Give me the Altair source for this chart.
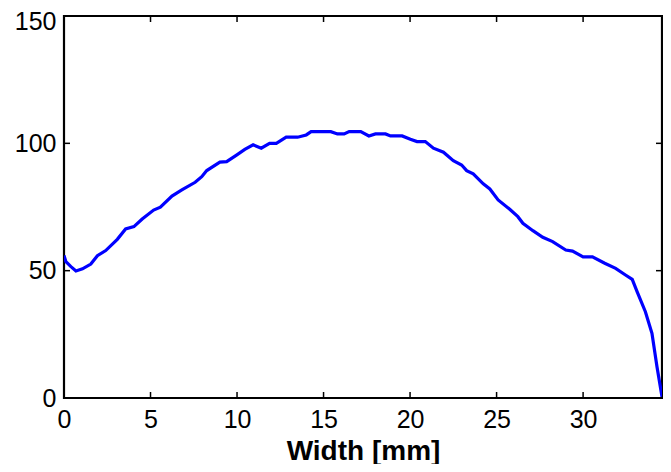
import altair as alt
import pandas as pd

width_mm = [0, 0.11, 0.4, 0.69, 1.07, 1.55, 1.93, 2.41, 3.08, 3.56,
            4.04, 4.52, 5.18, 5.57, 6.24, 6.81, 7.58, 7.96, 8.25, 9.01,
            9.4, 9.97, 10.45, 10.93, 11.4, 11.88, 12.27, 12.84, 13.5, 14.0,
            14.28, 15.42, 15.8, 16.19, 16.48, 17.15, 17.62, 18.0, 18.58, 18.87,
            19.54, 20.02, 20.4, 20.88, 21.35, 21.93, 22.5, 22.98, 23.27, 23.65,
            24.23, 24.61, 25.09, 25.76, 26.23, 26.52, 27.1, 27.67, 28.24, 29.0,
            29.39, 30.0, 30.54, 31.25, 31.88, 32.45, 32.84, 33.12, 33.6, 33.98,
            34.27, 34.56]
value = [56, 53.5, 51.6, 49.9, 50.7, 52.6, 55.9, 57.9, 62.3, 66.4,
         67.3, 70.3, 73.8, 74.9, 79.3, 81.7, 84.7, 86.9, 89.3, 92.6,
         92.8, 95.4, 97.6, 99.4, 98.1, 100, 100, 102.4, 102.4, 103.3,
         104.6, 104.6, 103.7, 103.7, 104.6, 104.6, 102.9, 103.7, 103.7, 102.9,
         102.9, 101.6, 100.7, 100.7, 98.1, 96.5, 93.2, 91.5, 89.3, 88,
         84.1, 82.1, 77.8, 74.1, 71.2, 68.6, 65.7, 63.1, 61.4, 58.1,
         57.7, 55.4, 55.4, 52.9, 50.9, 48.3, 46.6, 41.8, 33.9, 25.4,
         12.3, 0.5]
x_ticks = [0, 5, 10, 15, 20, 25, 30]
y_ticks = [0, 50, 100, 150]
x_domain = [0, 34.56]
y_domain = [0, 150]

W, H = 598, 382
FONT = "Liberation Sans"

df = pd.DataFrame({"w": width_mm, "v": value})
xt = pd.DataFrame({"t": x_ticks})
yt = pd.DataFrame({"t": y_ticks})

xscale = alt.Scale(domain=x_domain, nice=False, zero=False)
yscale = alt.Scale(domain=y_domain, nice=False)

line = alt.Chart(df).mark_line(color="#0000FF", strokeWidth=3.2, clip=True).encode(
    x=alt.X("w:Q", scale=xscale,
            axis=alt.Axis(values=x_ticks, ticks=False, domain=False, grid=False,
                          labelFontSize=25, labelFont=FONT, labelColor="black",
                          labelPadding=9, title="Width [mm]", titleFont=FONT,
                          titleFontSize=28, titleFontWeight="bold", titleColor="black",
                          titleBaseline="alphabetic", titleY=61, labelFlush=False)),
    y=alt.Y("v:Q", scale=yscale,
            axis=alt.Axis(values=y_ticks, ticks=False, domain=False, grid=False,
                          labelFontSize=25, labelFont=FONT, labelColor="black",
                          labelPadding=8, title=None, labelFlush=False,
                          labelOffset={"condition": {"test": "datum.value === 150", "value": 5},
                                       "value": 0})),
)

tick_len = 6
xb = alt.Chart(xt).mark_rule(color="black", strokeWidth=1.5).encode(
    x=alt.X("t:Q", scale=xscale), y=alt.value(H), y2=alt.value(H - tick_len))
xtp = alt.Chart(xt).mark_rule(color="black", strokeWidth=1.5).encode(
    x=alt.X("t:Q", scale=xscale), y=alt.value(0), y2=alt.value(tick_len))
yl = alt.Chart(yt).mark_rule(color="black", strokeWidth=1.5).encode(
    y=alt.Y("t:Q", scale=yscale), x=alt.value(0), x2=alt.value(tick_len))
yr = alt.Chart(yt).mark_rule(color="black", strokeWidth=1.5).encode(
    y=alt.Y("t:Q", scale=yscale), x=alt.value(W), x2=alt.value(W - tick_len))

chart = alt.layer(line, xb, xtp, yl, yr).properties(
    width=W, height=H,
    autosize=alt.AutoSizeParams(type="none"),
    padding={"left": 56, "top": 8, "right": 1, "bottom": 66},
    background="white",
).configure_view(stroke="black", strokeWidth=2.2)

chart.save("out.html", embed_options={"renderer": "svg", "actions": False})
